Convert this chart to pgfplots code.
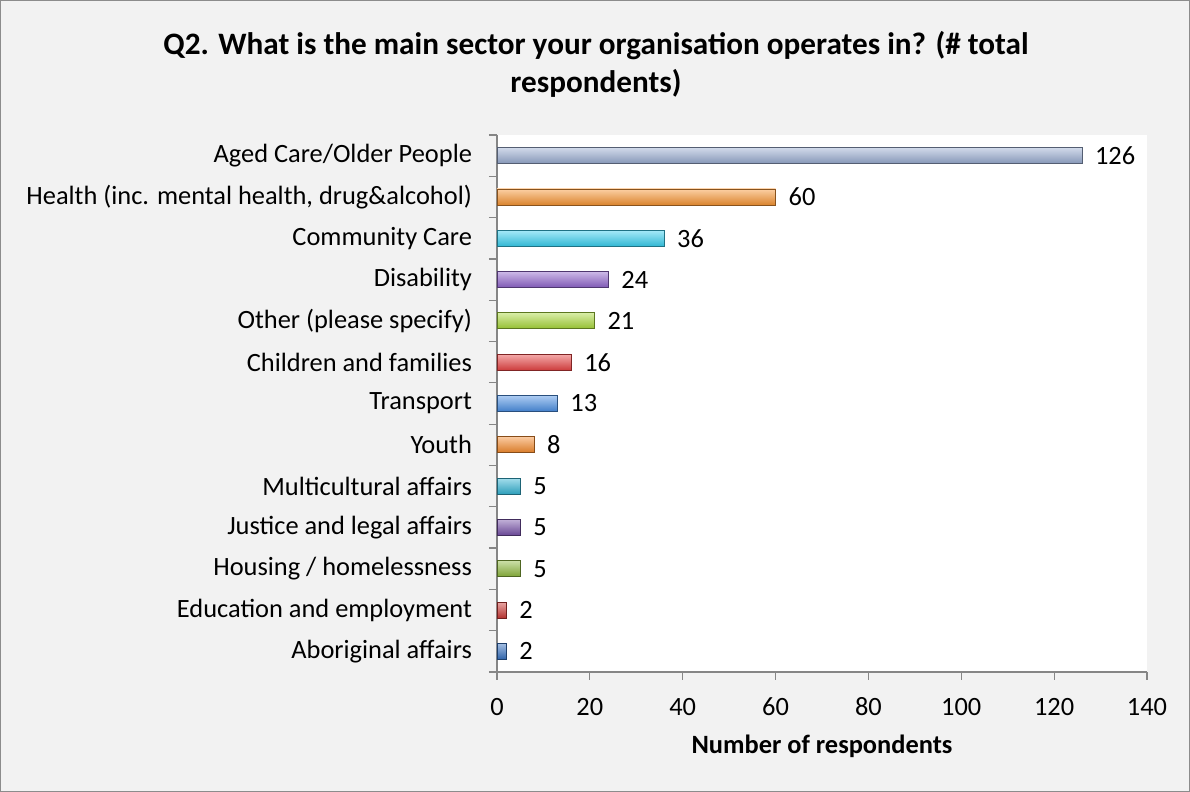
\documentclass[border=0pt]{standalone}
\usepackage{pgfplots}
\pgfplotsset{compat=1.18}
\usepackage{fontspec}
\setmainfont{Carlito}
\definecolor{bgc}{HTML}{F2F2F2}
\definecolor{axc}{HTML}{868686}
\definecolor{frc}{HTML}{8C8C8C}
\definecolor{cA}{HTML}{3570C0}
\definecolor{cB}{HTML}{CC3A36}
\definecolor{cC}{HTML}{8DB83C}
\definecolor{cD}{HTML}{7650A8}
\definecolor{cE}{HTML}{34B4D4}
\definecolor{cF}{HTML}{F58A2C}
\definecolor{cG}{HTML}{4A8FE4}
\definecolor{cH}{HTML}{E84444}
\definecolor{cI}{HTML}{A8D838}
\definecolor{cJ}{HTML}{9064CC}
\definecolor{cK}{HTML}{38D0F0}
\definecolor{cL}{HTML}{F89634}
\definecolor{cM}{HTML}{98ABD0}
\pgfplotsset{bevel/.style={draw=#1!55!black, line width=0.4pt, top color=#1!45!white, middle color=#1, bottom color=#1!88!black}}
\begin{document}
\begin{tikzpicture}[x=1pt,y=1pt]
\fill[bgc] (0,0) rectangle (595,396);
\draw[frc,line width=0.6pt] (0.3,0.3) rectangle (594.7,395.7);
\node[font=\bfseries\fontsize{15.6}{19}\selectfont, align=center] at (298,364) {Q2. What is the main sector your organisation operates in? (\# total\\respondents)};
\begin{axis}[
  at={(248.5pt,60pt)}, anchor=south west,
  scale only axis, width=325pt, height=268.5pt,
  xmin=0, xmax=140, ymin=-0.5, ymax=12.5,
  xbar, bar width=8pt, bar shift=0pt,
  axis background/.style={fill=white},
  axis x line*=bottom, axis y line*=left,
  axis line style={axc, line width=0.6pt},
  tick align=outside, major tick length=4pt, minor tick length=4pt,
  every tick/.style={axc, line width=0.6pt},
  xtick={0,20,...,140},
  ytick={0,...,12},
  major y tick style={draw=none},
  minor ytick={-0.5,0.5,...,12.5},
  yticklabels={Aboriginal affairs,Education and employment,Housing / homelessness,Justice and legal affairs,Multicultural affairs,Youth,Transport,Children and families,Other (please specify),Disability,Community Care,{Health (inc. mental health, drug\&alcohol)},Aged Care/Older People},
  /pgf/number format/assume math mode=true,
  ticklabel style={font=\fontsize{13.2}{15}\selectfont, text=black},
  yticklabel style={xshift=-5pt},
  xticklabel style={text height=9pt, text depth=0pt, yshift=-5pt},
  xlabel={Number of respondents},
  xlabel style={font=\bfseries\fontsize{13.2}{15}\selectfont, yshift=-3pt},
  nodes near coords,
  nodes near coords style={font=\fontsize{13.2}{15}\selectfont, text=black, anchor=west, xshift=3pt},
  clip=false,
]
\addplot[bevel=cA] coordinates {(2,0)};
\addplot[bevel=cB] coordinates {(2,1)};
\addplot[bevel=cC] coordinates {(5,2)};
\addplot[bevel=cD] coordinates {(5,3)};
\addplot[bevel=cE] coordinates {(5,4)};
\addplot[bevel=cF] coordinates {(8,5)};
\addplot[bevel=cG] coordinates {(13,6)};
\addplot[bevel=cH] coordinates {(16,7)};
\addplot[bevel=cI] coordinates {(21,8)};
\addplot[bevel=cJ] coordinates {(24,9)};
\addplot[bevel=cK] coordinates {(36,10)};
\addplot[bevel=cL] coordinates {(60,11)};
\addplot[bevel=cM] coordinates {(126,12)};
\end{axis}
\end{tikzpicture}
\end{document}
